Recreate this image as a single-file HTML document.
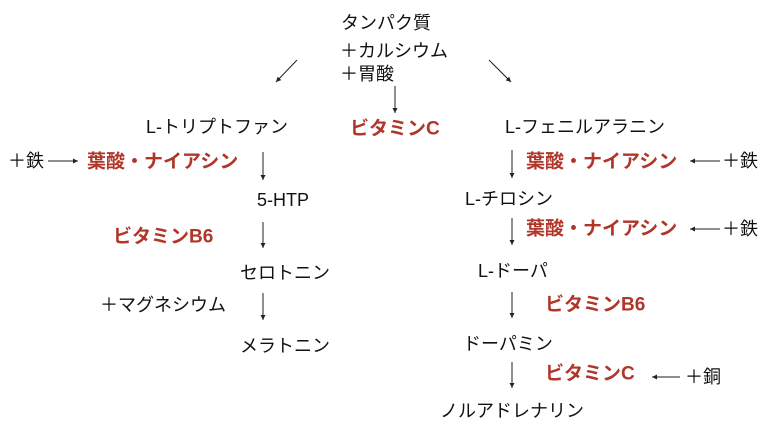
<!DOCTYPE html>
<html><head><meta charset="utf-8"><style>
html,body{margin:0;padding:0;background:#fff;}
svg{display:block;}
text{font-family:"Liberation Sans","Noto Sans CJK JP",sans-serif;font-size:18px;fill:#111;dominant-baseline:central;}
.r{fill:#b0362a;font-weight:bold;font-size:19px;}
line{stroke:#222;stroke-width:1;}
</style></head><body>
<svg width="768" height="432" viewBox="0 0 768 432" xmlns="http://www.w3.org/2000/svg">
<defs><marker id="a" markerWidth="6" markerHeight="6" refX="5" refY="3" orient="auto"><path d="M0,0.5 L5,3 L0,5.5z" fill="#222"/></marker></defs>
<text x="386" y="23" text-anchor="middle">タンパク質</text>
<text x="340" y="51">＋カルシウム</text>
<text x="340" y="74">＋胃酸</text>
<line x1="297" y1="60" x2="276" y2="82" marker-end="url(#a)"/>
<line x1="489" y1="60" x2="511" y2="82" marker-end="url(#a)"/>
<line x1="395" y1="86" x2="395" y2="113" marker-end="url(#a)"/>
<text class="r" x="350" y="129">ビタミンC</text>
<text x="146" y="127">L-トリプトファン</text>
<text x="8" y="161">＋鉄</text>
<line x1="48" y1="161" x2="78" y2="161" marker-end="url(#a)"/>
<text class="r" x="87" y="162">葉酸・ナイアシン</text>
<line x1="263" y1="152" x2="263" y2="180" marker-end="url(#a)"/>
<text x="257" y="200">5-HTP</text>
<text class="r" x="113" y="237">ビタミンB6</text>
<line x1="263" y1="222" x2="263" y2="248" marker-end="url(#a)"/>
<text x="240" y="273">セロトニン</text>
<text x="100" y="305">＋マグネシウム</text>
<line x1="263" y1="293" x2="263" y2="320" marker-end="url(#a)"/>
<text x="240" y="346">メラトニン</text>
<text x="505" y="127">L-フェニルアラニン</text>
<line x1="512" y1="150" x2="512" y2="178" marker-end="url(#a)"/>
<text class="r" x="526" y="162">葉酸・ナイアシン</text>
<line x1="720" y1="161" x2="690" y2="161" marker-end="url(#a)"/>
<text x="722" y="161">＋鉄</text>
<text x="465" y="199">L-チロシン</text>
<line x1="512" y1="218" x2="512" y2="245" marker-end="url(#a)"/>
<text class="r" x="526" y="229">葉酸・ナイアシン</text>
<line x1="720" y1="229" x2="690" y2="229" marker-end="url(#a)"/>
<text x="722" y="229">＋鉄</text>
<text x="478" y="271">L-ドーパ</text>
<line x1="512" y1="292" x2="512" y2="318" marker-end="url(#a)"/>
<text class="r" x="545" y="305">ビタミンB6</text>
<text x="463" y="344">ドーパミン</text>
<line x1="512" y1="362" x2="512" y2="388" marker-end="url(#a)"/>
<text class="r" x="545" y="374">ビタミンC</text>
<line x1="680" y1="377" x2="652" y2="377" marker-end="url(#a)"/>
<text x="685" y="377">＋銅</text>
<text x="440" y="411">ノルアドレナリン</text>
</svg>
</body></html>
